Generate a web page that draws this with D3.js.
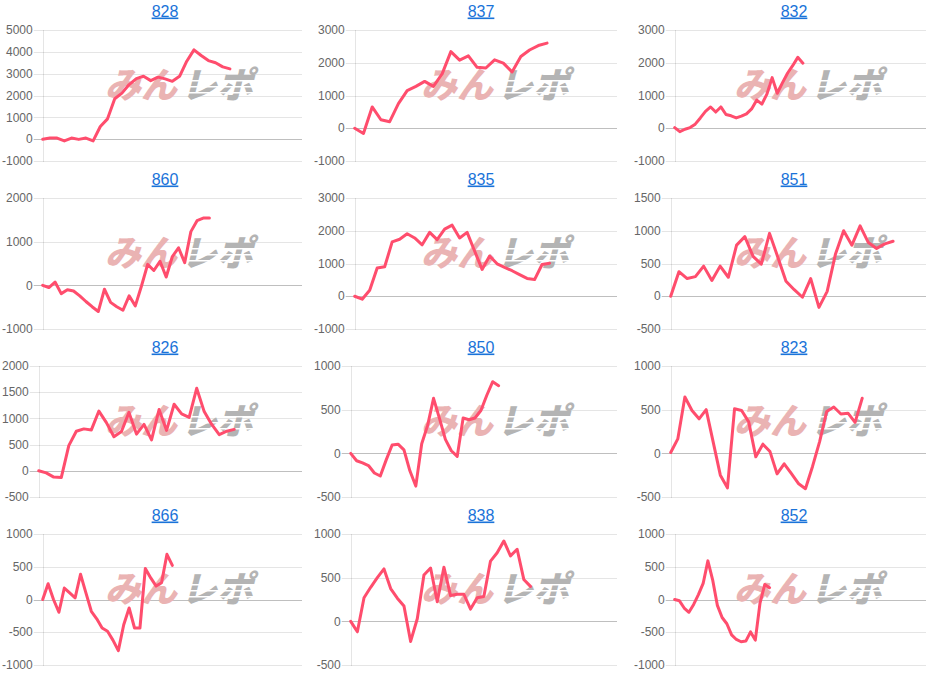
<!DOCTYPE html>
<html><head><meta charset="utf-8">
<script src="https://cdn.jsdelivr.net/npm/d3@7/dist/d3.min.js"></script>
<style>body{margin:0;background:#fff;} svg{display:block;}</style>
</head><body><svg id="c" width="937" height="673"></svg>
<script>
const titles = ["828","837","832","860","835","851","826","850","823","866","838","852"];
const slotCounts = [37,31,50,43,36,32,36,46,37,49,41,54];
const yMins = [-1000,-1000,-1000,-1000,-1000,-500,-500,-500,-500,-1000,-500,-1000];
const yMaxs = [5000,3000,3000,2000,3000,1500,2000,1000,1000,1000,1000,1000];
const ySteps = [1000,1000,1000,1000,1000,500,500,500,500,500,500,500];

const v828 = [0,50,50,-80,50,-10,50,-80,580,930,1850,2110,2500,2770,2880,2680,2840,2760,2650,2880,3570,4090,3830,3600,3500,3310,3220];
const v837 = [0,-160,650,260,200,750,1150,1280,1430,1280,1660,2340,2080,2210,1860,1840,2090,1990,1720,2190,2390,2525,2600];
const v832 = [20,-105,-30,20,125,315,515,650,495,650,420,380,315,370,440,590,860,735,1050,1545,1070,1385,1680,1910,2165,1985];
const v860 = [0,-50,75,-190,-100,-130,-240,-370,-490,-600,-90,-390,-490,-570,-240,-470,-15,480,340,550,190,660,860,520,1230,1480,1540,1540];
const v835 = [0,-90,185,860,900,1660,1740,1910,1780,1570,1950,1730,2050,2170,1780,1950,1380,820,1230,990,880,780,660,545,510,970,1010];
const v851 = [0,375,270,300,460,240,460,290,780,910,610,490,960,600,230,100,-15,270,-170,75,640,1000,780,1075,820,730,800,840];
const v826 = [0,-40,-120,-130,480,755,800,780,1140,920,650,750,1115,700,885,590,1170,770,1270,1085,1020,1575,1130,885,690,755,790];
const v850 = [0,-85,-110,-140,-225,-260,-75,95,105,40,-200,-375,110,320,630,400,160,30,-35,405,385,405,490,665,820,775];
const v823 = [10,165,645,490,395,500,125,-250,-395,510,490,360,-40,105,20,-235,-120,-230,-345,-405,-150,135,480,530,450,460,355,630];
const v866 = [0,240,0,-195,175,100,25,385,100,-180,-295,-435,-485,-620,-780,-385,-130,-435,-435,475,330,205,255,690,520];
const v838 = [0,-120,270,390,500,600,375,265,175,-230,30,530,610,225,620,295,310,310,140,270,285,690,785,920,750,825,480,400];
const v852 = [0,-20,-130,-195,-75,75,245,590,300,-90,-275,-370,-540,-610,-645,-635,-495,-620,-50,230,180];
const seriesList = [v828,v837,v832,v860,v835,v851,v826,v850,v823,v866,v838,v852];

const colX0 = [2, 314, 634], colX1 = [302, 617, 926];
const rowY = [0, 168, 336, 504];
const titleCX = [165, 481, 794];
const FONT = "'Liberation Sans', Arial, Helvetica, sans-serif";

const svg = d3.select("#c");
const meas = svg.append("text").attr("font-family", FONT).attr("font-size", 12).attr("visibility","hidden");
function tw(s){ meas.text(s); return meas.node().getComputedTextLength(); }

titles.forEach((t, k) => {
  const col = k % 3, row = Math.floor(k / 3);
  const ry = rowY[row];
  const ticks = d3.range(yMins[k], yMaxs[k] + 1, ySteps[k]);
  const labW = d3.max(ticks, v => tw(String(v)));
  const left = colX0[col] + labW + 10;
  const right = colX1[col];
  const y = d3.scaleLinear().domain([yMins[k], yMaxs[k]]).range([ry + 161, ry + 30]);
  const x = d3.scaleLinear().domain([0, slotCounts[k] - 1]).range([left, right]);
  const g = svg.append("g");

  // title
  const tt = g.append("text").attr("x", titleCX[col]).attr("y", ry + 16.5)
    .attr("text-anchor", "middle").attr("font-family", FONT).attr("font-size", 16)
    .attr("fill", "#1a73d9").attr("text-decoration", "underline").text(t);

  // grid
  g.selectAll("line.grid").data(ticks).join("line")
    .attr("x1", left - 9).attr("x2", right)
    .attr("y1", d => Math.round(y(d)) + 0.5).attr("y2", d => Math.round(y(d)) + 0.5)
    .attr("stroke", d => d === 0 ? "rgba(0,0,0,0.25)" : "rgba(0,0,0,0.1)");
  g.append("line").attr("x1", Math.round(left)+0.5).attr("x2", Math.round(left)+0.5)
    .attr("y1", y(yMaxs[k])).attr("y2", y(yMins[k]) + 1).attr("stroke", "rgba(0,0,0,0.1)");
  g.selectAll("text.tick").data(ticks).join("text")
    .attr("x", left - 10).attr("y", d => y(d)).attr("dy", "0.35em")
    .attr("text-anchor", "end").attr("font-family", FONT).attr("font-size", 12)
    .attr("fill", "#666").text(d => d);

  // watermark
  const wx = titleCX[col] + 17, wy = ry + 86;
  const wm = g.append("g").attr("transform", `translate(${wx},${wy}) skewX(-14)`);
  wm.append("text").attr("x", -2).attr("y", 12).attr("text-anchor", "end")
    .attr("font-family", "'Noto Sans CJK JP'").attr("font-weight", 900).attr("font-size", 36)
    .attr("fill", "#eab3b3").text("みん");
  wm.append("text").attr("x", 2).attr("y", 12).attr("text-anchor", "start")
    .attr("font-family", "'Noto Sans CJK JP'").attr("font-weight", 900).attr("font-size", 36)
    .attr("fill", "#b4b4b4").text("レポ");
  [-6, 0, 6].forEach(o => wm.append("rect").attr("x", 0).attr("y", o).attr("width", 82).attr("height", 1.5).attr("fill", "#fff"));

  // line
  g.append("path").datum(seriesList[k])
    .attr("d", d3.line().x((d, i) => x(i)).y(d => y(d)))
    .attr("fill", "none").attr("stroke", "#ff4d6d").attr("stroke-width", 3)
    .attr("stroke-linejoin", "round").attr("stroke-linecap", "round");
});
meas.remove();
</script></body></html>
